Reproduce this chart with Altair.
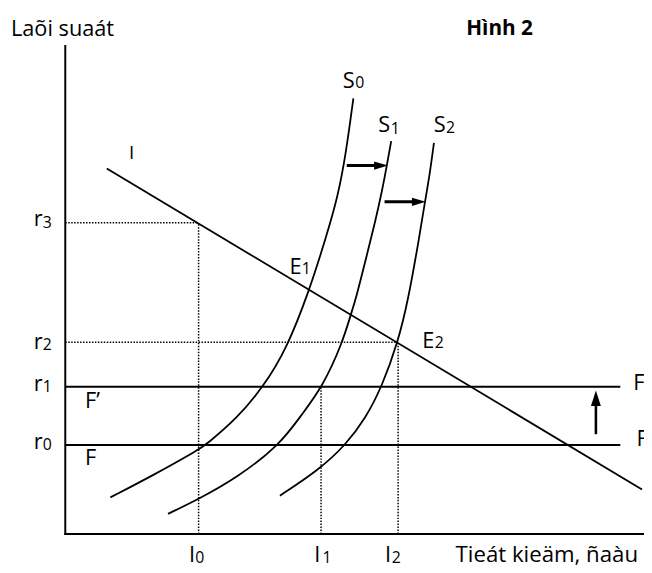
import altair as alt
import pandas as pd

# ---- levels on the axes ----
r_values = [90, 149, 194, 315]          # r0, r1, r2, r3
i_values = [135, 259, 337]              # I0, I1, I2
axis_x_end = 586
axis_y_end = 494
f_end = 562

# ---- investment demand line I ----
inv_x = [42, 584]
inv_y = [370, 45]

# ---- saving curves S0, S1, S2 ----
s0_x = [45.7, 90.7, 135, 142.3, 174, 200.7, 224, 247.3, 264, 275.7, 284, 291.7]
s0_y = [37, 60.3, 85.3, 90.3, 117, 149.3, 187, 247, 300.3, 340.3, 383.7, 441]
s1_x = [104, 135, 174, 217.3, 239, 260.7, 280.7, 289, 294, 305.7, 314, 320.7, 325.7, 330]
s1_y = [20.3, 35.3, 57, 90.3, 120.3, 149.3, 193.7, 222, 237, 283.7, 317, 347, 373.7, 397.7]
s2_x = [217.3, 257.3, 284, 304, 320.7, 336.7, 347.3, 359, 364, 369, 373.3]
s2_y = [38.7, 65.3, 90.3, 117, 149.3, 193.7, 237, 303.7, 335.3, 363.7, 396]

# ---- arrows ----
h_arrow_y = [373, 336.3]
h_arrow_from = [285, 323.3]
h_arrow_to = [326.7, 365]
v_arrow_x = [537.3]
v_arrow_from = [101]
v_arrow_to = [145.3]

# ---- labels ----
main_text = ["Laõi suaát", "r", "r", "r", "r", "S", "S", "S", "E", "E",
             "F’", "F", "F", "F", "I", "I", "I"]
main_x = [-55, -31.8, -31.8, -31.8, -31.8, 281, 317, 373, 227, 361.5,
          20, 20, 575, 578.5, 125.3, 252, 323.7]
main_y = [504, 86, 144.3, 187.7, 312, 452, 407, 407, 263.7, 188.7,
          127.7, 70.3, 145.3, 89, -28, -28, -28]

sub_text = ["0", "1", "2", "3", "0", "1", "2", "1", "2", "0", "1", "2"]
sub_x = [-22.8, -22.8, -22.8, -22.8, 293.5, 329.5, 385.5, 239.5, 374, 131.5, 260.5, 330.5]
sub_y = [85.3, 143.7, 186.3, 310, 452, 405.3, 406, 263, 188, -29.7, -29.7, -29.7]

title_text = ["Hình 2"]
title_x = [406]
title_y = [505]

xlabel_text = ["Tieát kieäm, ñaàu"]
xlabel_x = [580]
xlabel_y = [-28]

inv_label = ["I"]
inv_label_x = [64.5]
inv_label_y = [380]

FONT = "Open Sans"
XS = alt.Scale(domain=[-58, 586], nice=False, zero=False)
YS = alt.Scale(domain=[-36, 529], nice=False, zero=False)


def X(f):
    return alt.X(f, type="quantitative", scale=XS, axis=None)


def Y(f):
    return alt.Y(f, type="quantitative", scale=YS, axis=None)


r0, r1, r2, r3 = r_values
i0, i1, i2 = i_values

axes_df = pd.DataFrame({
    "x": [0, 0], "y": [0, 0], "x2": [0, axis_x_end], "y2": [axis_y_end, 0]})
flines_df = pd.DataFrame({
    "x": [0, 0], "y": [r0, r1], "x2": [f_end, f_end], "y2": [r0, r1]})
inv_df = pd.DataFrame({"x": [inv_x[0]], "y": [inv_y[0]], "x2": [inv_x[1]], "y2": [inv_y[1]]})
dotted_df = pd.DataFrame({
    "x": [0, 0, i0, i1, i2],
    "y": [r3, r2, 0, 0, 0],
    "x2": [i0, i2, i0, i1, i2],
    "y2": [r3, r2, r3, r1, r2],
})

curves_df = pd.concat([
    pd.DataFrame({"s": "S0", "x": s0_x, "y": s0_y}),
    pd.DataFrame({"s": "S1", "x": s1_x, "y": s1_y}),
    pd.DataFrame({"s": "S2", "x": s2_x, "y": s2_y}),
])

harrow_df = pd.DataFrame({"y": h_arrow_y, "x": h_arrow_from, "tip": h_arrow_to})
varrow_df = pd.DataFrame({"x": v_arrow_x, "y": v_arrow_from, "tip": v_arrow_to})


def seg_layer(df, width, dash=None, cap="butt"):
    kw = dict(color="black", strokeWidth=width, strokeCap=cap)
    if dash:
        kw["strokeDash"] = dash
    return alt.Chart(df).mark_rule(**kw).encode(
        x=X("x"), y=Y("y"), x2=alt.X2("x2"), y2=alt.Y2("y2"))


axes = seg_layer(axes_df, 2, cap="square")
flines = seg_layer(flines_df, 2)
invline = seg_layer(inv_df, 1.8)
dotted = seg_layer(dotted_df, 1.5, dash=[1.5, 1.5])

curves = alt.Chart(curves_df).mark_line(
    color="black", strokeWidth=1.8, interpolate="basis"
).encode(x=X("x"), y=Y("y"), detail="s:N", order="x:Q")

hshaft = alt.Chart(harrow_df).transform_calculate(end="datum.tip - 8").mark_rule(
    color="black", strokeWidth=3).encode(x=X("x"), x2=alt.X2("end"), y=Y("y"))
hhead = alt.Chart(harrow_df).mark_point(
    shape="M0,0L-2,-0.6L-2,0.6Z", filled=True, color="black", opacity=1,
    size=196, strokeWidth=0).encode(x=X("tip"), y=Y("y"))

vshaft = alt.Chart(varrow_df).transform_calculate(end="datum.tip - 8").mark_rule(
    color="black", strokeWidth=2.6).encode(x=X("x"), y=Y("y"), y2=alt.Y2("end"))
vhead = alt.Chart(varrow_df).mark_point(
    shape="M0,0L-0.64,2L0.64,2Z", filled=True, color="black", opacity=1,
    size=246, strokeWidth=0).encode(x=X("x"), y=Y("tip"))


def text_layer(texts, xs, ys, size, align="left", weight="normal"):
    df = pd.DataFrame({"t": texts, "x": xs, "y": ys})
    return alt.Chart(df).mark_text(
        align=align, baseline="alphabetic", font=FONT, fontSize=size,
        fontWeight=weight, color="black"
    ).encode(x=X("x"), y=Y("y"), text="t:N")


main_labels = text_layer(main_text, main_x, main_y, 22)
sub_labels = text_layer(sub_text, sub_x, sub_y, 16)
title = text_layer(title_text, title_x, title_y, 21, weight="bold")
xlabel = text_layer(xlabel_text, xlabel_x, xlabel_y, 22.5, align="right")
invlab = text_layer(inv_label, inv_label_x, inv_label_y, 19)

chart = alt.layer(
    dotted, flines, invline, curves, axes, hshaft, hhead, vshaft, vhead,
    main_labels, sub_labels, title, xlabel, invlab
).properties(
    width=644, height=565, padding=0,
    autosize=alt.AutoSizeParams(type="none"),
    background="white",
).configure_view(stroke=None)

chart.save("out.html", embed_options={"renderer": "svg", "actions": False})
